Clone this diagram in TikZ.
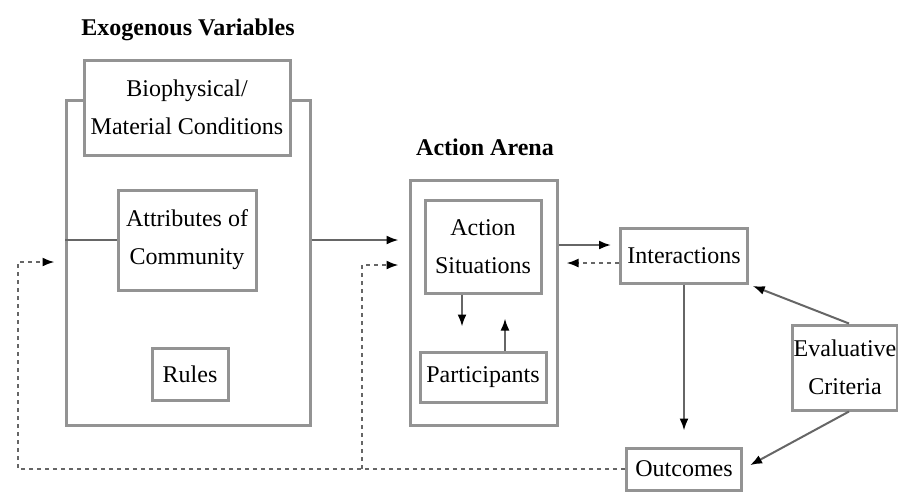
\documentclass[tikz,border=0pt]{standalone}
\usepackage{fontspec}
\setmainfont{Liberation Serif}
\usetikzlibrary{positioning,fit,arrows.meta}
\tikzset{
  >={Latex[length=6pt,width=4.5pt,color=black]},
  box/.style={draw=gray!85,line width=1.5pt,fill=white,align=center,
    inner sep=2pt,font=\fontsize{12}{19}\selectfont},
  frame/.style={draw=gray!85,line width=1.5pt,inner sep=0pt},
  title/.style={font=\bfseries\fontsize{12}{14}\selectfont},
  link/.style={draw=gray!80!black,line width=1pt},
  feedback/.style={link,dash pattern=on 2pt off 2pt}
}
\begin{document}
\begin{tikzpicture}[x=0.5pt,y=-0.5pt]
	\useasboundingbox (0,0) rectangle (898,495);

	% Exogenous variables
	\node[title] (exotitle) at (188,30) {Exogenous Variables};
	\node[frame,fit={(66,100) (310,425)}] (exo) {};
	\node[box,minimum width=103pt,minimum height=47.5pt] (bio) at (187,107.5) {Biophysical/\\Material Conditions};
	\node[box,minimum width=69pt,minimum height=50pt] (attr) at (187,240) {Attributes of\\Community};
	\node[box,minimum width=38pt,minimum height=26pt] (rules) at (190,374) {Rules};

	% Action arena
	\node[title] (arenatitle) at (485,147) {Action Arena};
	\node[frame,fit={(410,180) (557,425)}] (arena) {};
	\node[box,minimum width=58pt,minimum height=46.5pt] (sit) at (483,246.5) {Action\\Situations};
	\node[box,minimum width=63pt,minimum height=25pt] (part) at (483,377) {Participants};

	% Patterns and outcomes
	\node[box,minimum width=63.5pt,minimum height=27.5pt] (inter) at (684,255.5) {Interactions};
	\node[box,minimum width=57.5pt,minimum height=21pt] (outc) at (684,469) {Outcomes};
	\node[box,inner sep=0.5pt,minimum width=51pt,minimum height=42.5pt] (eval) at (845,367.5) {Evaluative\\Criteria};

	\coordinate (fbleft) at (18,469);
	\coordinate (fbmid) at (362,469);

	% connectors
	\draw[link] (attr.west) -- (exo.west |- attr.west);
	\draw[link,->,shorten >=5pt] (exo.east |- attr.east) -- (arena.west |- attr.east);
	\draw[link,->,shorten >=12pt] ([xshift=-10.5pt]sit.south) -- ([xshift=-10.5pt]part.north);
	\draw[link,->,shorten >=12pt] ([xshift=11pt]part.north) -- ([xshift=11pt]sit.south);
	\draw[link,->,shorten >=4pt] (arena.east |- 0,245) -- (inter.west |- 0,245);
	\draw[feedback,->,shorten >=4pt] (inter.west |- 0,263) -- (arena.east |- 0,263);
	\draw[link,->,shorten >=8pt] (inter.south) -- (outc.north);
	\draw[link,->,shorten >=2pt] ([xshift=2pt]eval.north) -- (inter.south east);
	\draw[link,->,shorten >=4pt] ([xshift=2pt]eval.south) -- (outc.east);
	\draw[feedback,->,shorten >=5pt] (outc.west) -- (fbleft) |- (exo.west |- 0,262);
	\draw[feedback,->,shorten >=5pt] (fbmid) |- (arena.west |- 0,265);
\end{tikzpicture}
\end{document}
